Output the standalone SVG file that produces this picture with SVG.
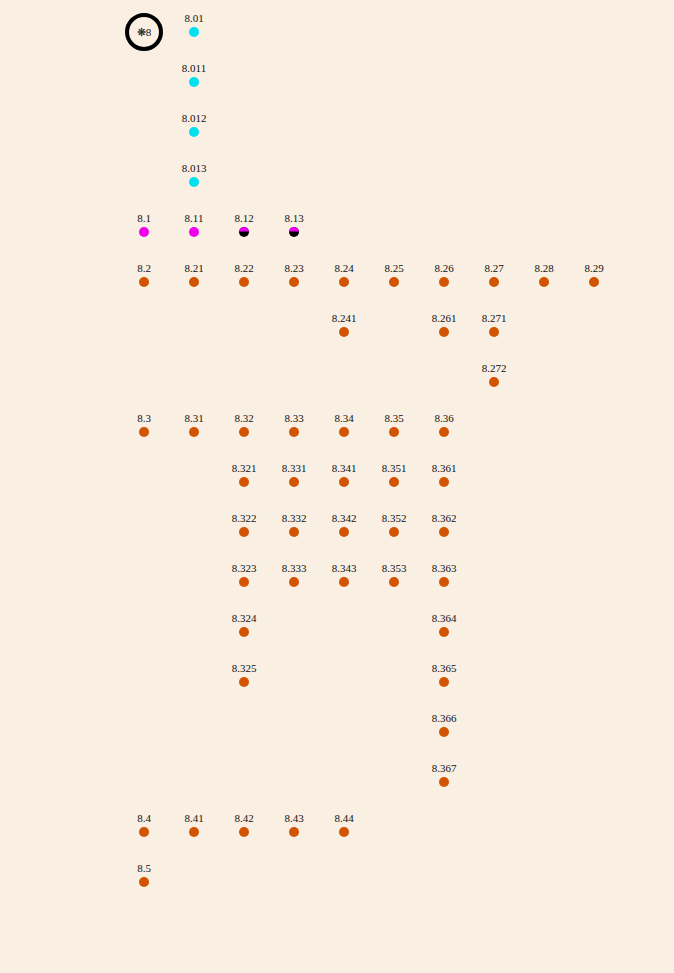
<svg xmlns="http://www.w3.org/2000/svg" width="674" height="973" viewBox="0 0 674 973">
<style>
text{font-family:"Liberation Serif","DejaVu Serif",serif;font-size:11px;fill:#111;text-anchor:middle}
.o{fill:#d35400}.c{fill:#00e0ee}.m{fill:#ee00ee}
</style>
<defs>
<clipPath id="top"><rect x="-6" y="-6" width="12" height="5.5"/></clipPath>
<g id="half"><circle r="5" fill="#000"/><circle r="5" fill="#ee00ee" clip-path="url(#top)"/></g>
</defs>
<rect width="674" height="973" fill="#f9f0e3"/>
<g id="connectors"/>
<g id="n8"><circle cx="144" cy="32" r="17" fill="none" stroke="#000" stroke-width="4"/><text x="144" y="36" font-size="10">❋8</text></g>
<g id="n8.01"><text x="194" y="22">8.01</text><circle class="c" cx="194" cy="32" r="5"/></g>
<g id="n8.011"><text x="194" y="72">8.011</text><circle class="c" cx="194" cy="82" r="5"/></g>
<g id="n8.012"><text x="194" y="122">8.012</text><circle class="c" cx="194" cy="132" r="5"/></g>
<g id="n8.013"><text x="194" y="172">8.013</text><circle class="c" cx="194" cy="182" r="5"/></g>
<g id="n8.1"><text x="144" y="222">8.1</text><circle class="m" cx="144" cy="232" r="5"/></g>
<g id="n8.11"><text x="194" y="222">8.11</text><circle class="m" cx="194" cy="232" r="5"/></g>
<g id="n8.12"><text x="244" y="222">8.12</text><use href="#half" x="244" y="232"/></g>
<g id="n8.13"><text x="294" y="222">8.13</text><use href="#half" x="294" y="232"/></g>
<g id="n8.2"><text x="144" y="272">8.2</text><circle class="o" cx="144" cy="282" r="5"/></g>
<g id="n8.21"><text x="194" y="272">8.21</text><circle class="o" cx="194" cy="282" r="5"/></g>
<g id="n8.22"><text x="244" y="272">8.22</text><circle class="o" cx="244" cy="282" r="5"/></g>
<g id="n8.23"><text x="294" y="272">8.23</text><circle class="o" cx="294" cy="282" r="5"/></g>
<g id="n8.24"><text x="344" y="272">8.24</text><circle class="o" cx="344" cy="282" r="5"/></g>
<g id="n8.25"><text x="394" y="272">8.25</text><circle class="o" cx="394" cy="282" r="5"/></g>
<g id="n8.26"><text x="444" y="272">8.26</text><circle class="o" cx="444" cy="282" r="5"/></g>
<g id="n8.27"><text x="494" y="272">8.27</text><circle class="o" cx="494" cy="282" r="5"/></g>
<g id="n8.28"><text x="544" y="272">8.28</text><circle class="o" cx="544" cy="282" r="5"/></g>
<g id="n8.29"><text x="594" y="272">8.29</text><circle class="o" cx="594" cy="282" r="5"/></g>
<g id="n8.241"><text x="344" y="322">8.241</text><circle class="o" cx="344" cy="332" r="5"/></g>
<g id="n8.261"><text x="444" y="322">8.261</text><circle class="o" cx="444" cy="332" r="5"/></g>
<g id="n8.271"><text x="494" y="322">8.271</text><circle class="o" cx="494" cy="332" r="5"/></g>
<g id="n8.272"><text x="494" y="372">8.272</text><circle class="o" cx="494" cy="382" r="5"/></g>
<g id="n8.3"><text x="144" y="422">8.3</text><circle class="o" cx="144" cy="432" r="5"/></g>
<g id="n8.31"><text x="194" y="422">8.31</text><circle class="o" cx="194" cy="432" r="5"/></g>
<g id="n8.32"><text x="244" y="422">8.32</text><circle class="o" cx="244" cy="432" r="5"/></g>
<g id="n8.33"><text x="294" y="422">8.33</text><circle class="o" cx="294" cy="432" r="5"/></g>
<g id="n8.34"><text x="344" y="422">8.34</text><circle class="o" cx="344" cy="432" r="5"/></g>
<g id="n8.35"><text x="394" y="422">8.35</text><circle class="o" cx="394" cy="432" r="5"/></g>
<g id="n8.36"><text x="444" y="422">8.36</text><circle class="o" cx="444" cy="432" r="5"/></g>
<g id="n8.321"><text x="244" y="472">8.321</text><circle class="o" cx="244" cy="482" r="5"/></g>
<g id="n8.331"><text x="294" y="472">8.331</text><circle class="o" cx="294" cy="482" r="5"/></g>
<g id="n8.341"><text x="344" y="472">8.341</text><circle class="o" cx="344" cy="482" r="5"/></g>
<g id="n8.351"><text x="394" y="472">8.351</text><circle class="o" cx="394" cy="482" r="5"/></g>
<g id="n8.361"><text x="444" y="472">8.361</text><circle class="o" cx="444" cy="482" r="5"/></g>
<g id="n8.322"><text x="244" y="522">8.322</text><circle class="o" cx="244" cy="532" r="5"/></g>
<g id="n8.332"><text x="294" y="522">8.332</text><circle class="o" cx="294" cy="532" r="5"/></g>
<g id="n8.342"><text x="344" y="522">8.342</text><circle class="o" cx="344" cy="532" r="5"/></g>
<g id="n8.352"><text x="394" y="522">8.352</text><circle class="o" cx="394" cy="532" r="5"/></g>
<g id="n8.362"><text x="444" y="522">8.362</text><circle class="o" cx="444" cy="532" r="5"/></g>
<g id="n8.323"><text x="244" y="572">8.323</text><circle class="o" cx="244" cy="582" r="5"/></g>
<g id="n8.333"><text x="294" y="572">8.333</text><circle class="o" cx="294" cy="582" r="5"/></g>
<g id="n8.343"><text x="344" y="572">8.343</text><circle class="o" cx="344" cy="582" r="5"/></g>
<g id="n8.353"><text x="394" y="572">8.353</text><circle class="o" cx="394" cy="582" r="5"/></g>
<g id="n8.363"><text x="444" y="572">8.363</text><circle class="o" cx="444" cy="582" r="5"/></g>
<g id="n8.324"><text x="244" y="622">8.324</text><circle class="o" cx="244" cy="632" r="5"/></g>
<g id="n8.364"><text x="444" y="622">8.364</text><circle class="o" cx="444" cy="632" r="5"/></g>
<g id="n8.325"><text x="244" y="672">8.325</text><circle class="o" cx="244" cy="682" r="5"/></g>
<g id="n8.365"><text x="444" y="672">8.365</text><circle class="o" cx="444" cy="682" r="5"/></g>
<g id="n8.366"><text x="444" y="722">8.366</text><circle class="o" cx="444" cy="732" r="5"/></g>
<g id="n8.367"><text x="444" y="772">8.367</text><circle class="o" cx="444" cy="782" r="5"/></g>
<g id="n8.4"><text x="144" y="822">8.4</text><circle class="o" cx="144" cy="832" r="5"/></g>
<g id="n8.41"><text x="194" y="822">8.41</text><circle class="o" cx="194" cy="832" r="5"/></g>
<g id="n8.42"><text x="244" y="822">8.42</text><circle class="o" cx="244" cy="832" r="5"/></g>
<g id="n8.43"><text x="294" y="822">8.43</text><circle class="o" cx="294" cy="832" r="5"/></g>
<g id="n8.44"><text x="344" y="822">8.44</text><circle class="o" cx="344" cy="832" r="5"/></g>
<g id="n8.5"><text x="144" y="872">8.5</text><circle class="o" cx="144" cy="882" r="5"/></g>
</svg>
